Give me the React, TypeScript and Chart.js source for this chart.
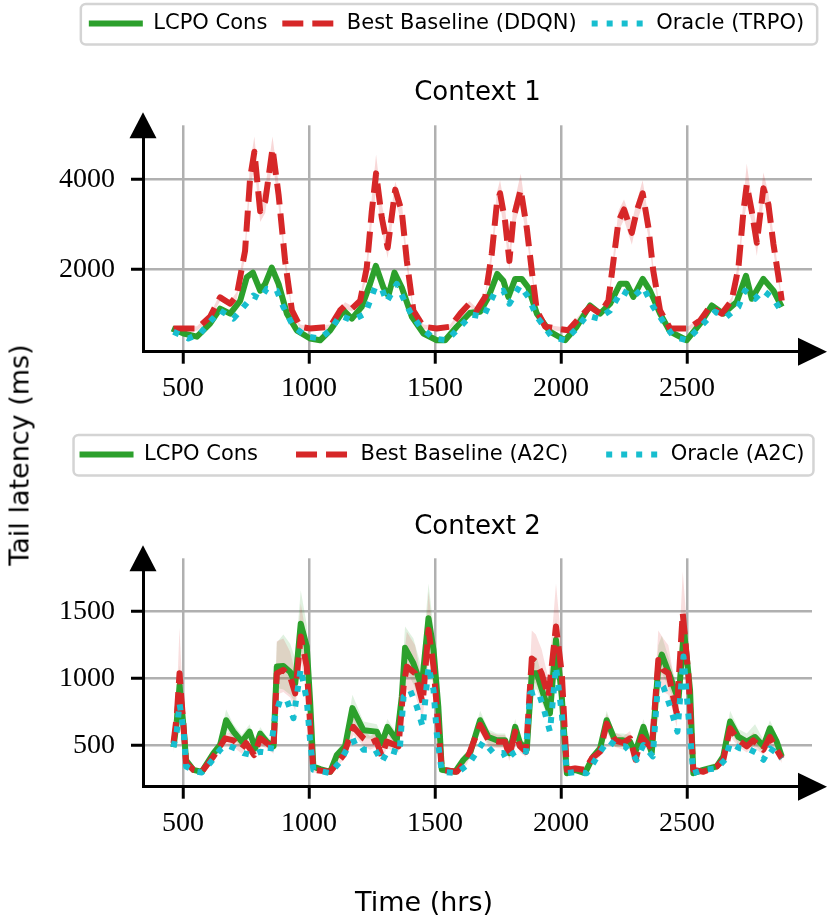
import React, { useEffect, useRef } from 'react';
import { Chart, registerables } from 'chart.js';

Chart.register(...registerables);

// shared axis ticks
const xTicks = [500, 1000, 1500, 2000, 2500];
const c1YTicks = [2000, 4000];
const c2YTicks = [500, 1000, 1500];

// ---- Context 1 ----
const c1LcpoT = [456, 502, 555, 607, 647, 687, 727, 753, 777, 806, 826, 852, 879, 912, 951, 1004, 1044, 1084, 1137, 1170, 1209, 1242, 1265, 1295, 1315, 1339, 1368, 1408, 1454, 1507, 1540, 1586, 1639, 1679, 1712, 1747, 1771, 1791, 1818, 1844, 1870, 1904, 1956, 2016, 2062, 2115, 2155, 2195, 2234, 2261, 2287, 2324, 2353, 2393, 2433, 2499, 2552, 2598, 2644, 2697, 2734, 2757, 2803, 2843, 2876];
const c1LcpoV = [690, 580, 510, 800, 1130, 1020, 1310, 1830, 1930, 1530, 1680, 2040, 1680, 1020, 650, 470, 430, 650, 1090, 910, 1170, 1680, 2080, 1600, 1420, 1930, 1600, 950, 580, 430, 430, 730, 1040, 1060, 1390, 1900, 1750, 1390, 1790, 1790, 1600, 1020, 620, 430, 730, 1200, 1020, 1240, 1680, 1680, 1390, 1790, 1530, 1020, 620, 430, 800, 1200, 1020, 1280, 1860, 1350, 1790, 1530, 1170];

const c1BaseT = [462, 555, 607, 647, 687, 713, 746, 766, 783, 806, 826, 855, 879, 905, 932, 965, 1004, 1084, 1123, 1143, 1170, 1203, 1229, 1249, 1266, 1289, 1312, 1342, 1368, 1388, 1414, 1454, 1507, 1560, 1600, 1636, 1665, 1699, 1725, 1745, 1758, 1778, 1795, 1811, 1840, 1864, 1884, 1904, 1937, 1983, 2029, 2076, 2115, 2155, 2188, 2208, 2228, 2250, 2281, 2300, 2324, 2347, 2366, 2393, 2433, 2505, 2552, 2591, 2638, 2677, 2704, 2724, 2737, 2757, 2777, 2803, 2823, 2843, 2863, 2876];
const c1BaseV = [690, 690, 950, 1380, 1240, 1420, 2410, 4020, 4610, 3290, 3510, 4680, 3660, 2190, 1090, 730, 690, 730, 1090, 1200, 1130, 1310, 2040, 3290, 4130, 3140, 2480, 3770, 3290, 2190, 1090, 730, 690, 730, 1020, 1240, 1090, 1390, 2340, 3440, 3690, 3070, 2190, 3140, 3770, 2920, 1970, 1090, 730, 690, 650, 950, 1170, 1020, 1310, 2190, 3070, 3330, 2810, 3290, 3690, 2920, 1970, 1090, 690, 690, 870, 1170, 1020, 1310, 2040, 3290, 3880, 3290, 2590, 3800, 3440, 2560, 1830, 1310];
const c1BaseHi = [740, 740, 1010, 1460, 1300, 1500, 2600, 4350, 4950, 3600, 3800, 4950, 3900, 2350, 1160, 780, 740, 780, 1150, 1270, 1190, 1380, 2250, 3600, 4550, 3450, 2750, 3950, 3500, 2350, 1160, 780, 740, 780, 1080, 1300, 1150, 1460, 2500, 3700, 3980, 3350, 2450, 3400, 4120, 3150, 2100, 1160, 780, 740, 700, 1010, 1230, 1080, 1380, 2350, 3300, 3550, 3050, 3500, 3980, 3150, 2100, 1160, 740, 740, 930, 1230, 1080, 1380, 2200, 3550, 4350, 3550, 2900, 4150, 3700, 2750, 1950, 1380];
const c1BaseLo = [640, 640, 890, 1300, 1180, 1340, 2250, 3750, 4300, 3050, 3250, 4400, 3400, 2030, 1020, 680, 640, 680, 1030, 1130, 1070, 1240, 1850, 3000, 3750, 2850, 2250, 3500, 3050, 2030, 1020, 680, 640, 680, 960, 1180, 1030, 1320, 2180, 3200, 3420, 2800, 1980, 2900, 3450, 2700, 1840, 1020, 680, 640, 600, 890, 1110, 960, 1240, 2030, 2850, 3100, 2550, 3050, 3420, 2700, 1840, 1020, 640, 640, 810, 1110, 960, 1240, 1880, 3050, 3450, 3050, 2300, 3500, 3200, 2380, 1700, 1240];

const c1OracleT = [462, 521, 568, 607, 647, 700, 740, 779, 806, 832, 872, 898, 938, 991, 1044, 1084, 1123, 1170, 1223, 1262, 1289, 1308, 1348, 1375, 1401, 1441, 1494, 1547, 1593, 1646, 1692, 1738, 1771, 1795, 1837, 1870, 1904, 1963, 2016, 2062, 2102, 2148, 2195, 2241, 2287, 2327, 2366, 2406, 2446, 2499, 2565, 2611, 2657, 2704, 2730, 2770, 2803, 2843, 2876];
const c1OracleV = [620, 470, 580, 840, 1090, 910, 1170, 1420, 1350, 1570, 1530, 1170, 730, 510, 470, 650, 980, 870, 1020, 1600, 1570, 1280, 1680, 1350, 1060, 730, 470, 430, 690, 1000, 950, 1500, 1530, 1240, 1640, 1390, 950, 510, 430, 690, 980, 910, 1090, 1530, 1390, 1600, 1170, 840, 510, 430, 800, 1060, 950, 1170, 1530, 1350, 1530, 1350, 1060];

// ---- Context 2 ----
const c2LcpoT = [462, 475, 486, 502, 512, 541, 574, 621, 647, 671, 700, 733, 764, 786, 806, 832, 859, 872, 898, 925, 945, 967, 991, 1004, 1017, 1044, 1084, 1110, 1143, 1172, 1216, 1269, 1289, 1311, 1348, 1368, 1381, 1414, 1447, 1474, 1494, 1513, 1527, 1580, 1613, 1639, 1679, 1712, 1745, 1778, 1795, 1818, 1837, 1864, 1884, 1904, 1933, 1956, 1980, 2003, 2023, 2056, 2095, 2128, 2155, 2181, 2214, 2247, 2274, 2294, 2327, 2360, 2386, 2400, 2433, 2466, 2488, 2512, 2525, 2565, 2618, 2644, 2671, 2704, 2737, 2770, 2803, 2829, 2856, 2876];
const c2LcpoV = [490, 680, 950, 640, 390, 320, 305, 445, 505, 690, 605, 530, 605, 480, 590, 530, 495, 1090, 1095, 1050, 965, 1410, 1240, 840, 345, 325, 305, 430, 495, 780, 615, 605, 520, 640, 540, 865, 1230, 1115, 940, 1450, 1215, 790, 320, 305, 395, 445, 690, 565, 540, 540, 445, 640, 520, 470, 1040, 1040, 865, 740, 1290, 865, 295, 320, 295, 420, 480, 690, 540, 540, 530, 445, 640, 445, 1090, 1180, 1015, 840, 1360, 915, 295, 320, 345, 420, 680, 565, 530, 565, 495, 630, 530, 420];
const c2LcpoHi = [530, 760, 1100, 700, 420, 340, 325, 480, 550, 770, 660, 580, 660, 520, 640, 570, 530, 1270, 1330, 1260, 1150, 1660, 1400, 950, 370, 345, 325, 465, 540, 880, 680, 660, 570, 700, 590, 1000, 1390, 1300, 1080, 1710, 1380, 880, 345, 325, 430, 485, 760, 620, 590, 590, 485, 700, 565, 510, 1170, 1160, 960, 820, 1450, 960, 320, 345, 320, 455, 520, 760, 590, 590, 580, 485, 700, 485, 1250, 1320, 1120, 920, 1520, 1000, 320, 345, 375, 460, 760, 625, 590, 660, 545, 690, 580, 460];
const c2LcpoLo = [450, 610, 820, 580, 360, 300, 285, 410, 460, 620, 550, 480, 550, 440, 540, 490, 460, 930, 920, 880, 820, 1200, 1080, 740, 320, 305, 285, 395, 450, 690, 555, 550, 475, 580, 495, 760, 1080, 960, 820, 1240, 1060, 700, 295, 285, 360, 405, 620, 510, 490, 490, 405, 580, 475, 430, 920, 920, 780, 670, 1140, 780, 275, 295, 275, 385, 440, 620, 490, 490, 480, 405, 580, 405, 950, 1040, 910, 760, 1200, 830, 275, 295, 315, 380, 610, 510, 480, 500, 450, 570, 480, 385];

const c2BaseT = [462, 475, 486, 502, 512, 541, 574, 621, 667, 700, 733, 750, 782, 806, 832, 859, 872, 898, 925, 945, 967, 991, 1004, 1017, 1084, 1137, 1176, 1216, 1242, 1266, 1289, 1308, 1355, 1375, 1388, 1421, 1451, 1474, 1494, 1513, 1527, 1586, 1626, 1679, 1712, 1751, 1778, 1795, 1818, 1837, 1861, 1884, 1900, 1923, 1950, 1980, 2003, 2023, 2056, 2095, 2122, 2155, 2181, 2214, 2247, 2274, 2296, 2320, 2360, 2386, 2406, 2426, 2459, 2483, 2505, 2525, 2565, 2618, 2644, 2671, 2704, 2737, 2763, 2803, 2829, 2856, 2876];
const c2BaseV = [520, 720, 1040, 640, 370, 320, 305, 420, 555, 540, 480, 520, 430, 555, 520, 480, 1040, 1065, 1015, 890, 1315, 1090, 665, 320, 305, 430, 640, 555, 520, 540, 420, 530, 495, 940, 1090, 1040, 815, 1365, 1090, 640, 320, 305, 395, 655, 540, 530, 530, 420, 605, 495, 455, 1150, 1125, 1040, 865, 1390, 1040, 320, 330, 320, 405, 455, 665, 540, 520, 555, 395, 565, 480, 1140, 1065, 1040, 740, 1490, 1040, 320, 305, 345, 395, 630, 540, 495, 540, 470, 565, 470, 405];
const c2BaseHi = [570, 850, 1380, 720, 400, 340, 325, 450, 600, 590, 520, 560, 470, 610, 560, 520, 1280, 1300, 1200, 1050, 1560, 1300, 760, 340, 325, 470, 710, 620, 570, 600, 460, 580, 540, 1150, 1350, 1250, 950, 1650, 1300, 720, 340, 325, 430, 720, 600, 580, 580, 460, 660, 545, 500, 1360, 1330, 1220, 1000, 1710, 1250, 345, 355, 345, 440, 500, 740, 600, 570, 610, 440, 620, 530, 1360, 1300, 1250, 880, 1800, 1260, 345, 325, 370, 430, 700, 600, 545, 600, 520, 620, 520, 445];
const c2BaseLo = [470, 620, 780, 570, 340, 300, 285, 390, 510, 490, 440, 480, 395, 500, 480, 440, 880, 900, 860, 760, 1130, 900, 580, 300, 285, 395, 580, 500, 470, 490, 385, 480, 450, 800, 920, 880, 700, 1150, 920, 570, 300, 285, 360, 600, 490, 480, 480, 385, 550, 450, 415, 980, 960, 880, 740, 1150, 880, 300, 310, 300, 370, 415, 600, 490, 470, 500, 360, 510, 440, 960, 900, 880, 640, 1250, 880, 300, 285, 320, 360, 570, 490, 450, 490, 430, 510, 430, 370];

const c2OracleT = [462, 475, 486, 502, 512, 555, 574, 607, 647, 674, 707, 740, 773, 806, 846, 865, 885, 912, 938, 967, 991, 1004, 1017, 1084, 1123, 1163, 1189, 1216, 1262, 1289, 1315, 1359, 1375, 1401, 1428, 1451, 1474, 1494, 1507, 1527, 1586, 1636, 1692, 1732, 1771, 1784, 1811, 1837, 1861, 1877, 1910, 1933, 1956, 1980, 2003, 2023, 2062, 2102, 2128, 2161, 2188, 2221, 2254, 2280, 2300, 2327, 2364, 2386, 2406, 2433, 2462, 2486, 2505, 2525, 2565, 2618, 2651, 2671, 2710, 2750, 2777, 2803, 2829, 2856, 2876];
const c2OracleV = [490, 605, 815, 615, 345, 305, 300, 370, 470, 505, 480, 445, 430, 455, 445, 715, 840, 840, 705, 1075, 840, 540, 320, 295, 380, 520, 540, 470, 470, 380, 470, 445, 865, 915, 790, 640, 1090, 915, 590, 305, 295, 368, 530, 445, 445, 395, 445, 470, 455, 890, 905, 765, 605, 1090, 740, 295, 305, 295, 370, 470, 540, 495, 495, 445, 395, 505, 420, 990, 940, 790, 605, 1165, 740, 295, 320, 330, 395, 520, 480, 470, 445, 395, 480, 445, 405];

const GREEN = '#2ca02c';
const RED = '#d62728';
const CYAN = '#17becf';
const LW = 6;

const pts = (t: number[], v: number[]) => t.map((x, i) => ({ x, y: v[i] }));

const lineDs = (label: string, t: number[], v: number[], color: string, dash: number[], order: number) => ({
  label,
  data: pts(t, v),
  borderColor: color,
  backgroundColor: color,
  borderWidth: LW,
  borderDash: dash,
  borderJoinStyle: 'round',
  pointRadius: 0,
  tension: 0,
  fill: false,
  order,
});

const bandDs = (t: number[], v: number[], color: string, fill: any) => ({
  label: '_band',
  data: pts(t, v),
  borderWidth: 0,
  pointRadius: 0,
  tension: 0,
  backgroundColor: color,
  fill,
  order: 5,
});

// legend items: only the three lines, in dataset order, with their dash styles
const legendItems = (chart: any) =>
  chart.data.datasets
    .map((ds: any, i: number) => ({
      text: ds.label,
      datasetIndex: i,
      fillStyle: ds.borderColor,
      strokeStyle: ds.borderColor,
      lineWidth: LW,
      lineDash: ds.borderDash,
      lineCap: 'butt',
      pointStyle: 'line',
      fontColor: '#000',
      hidden: false,
    }))
    .filter((it: any) => it.datasetIndex < 3);

// legend frame, legend shift and axis arrow heads
const decor = {
  id: 'decor',
  afterLayout(chart: any) {
    const lg = chart.legend;
    const dx = chart.options.plugins.decor.dx;
    if (lg) {
      lg.left += dx;
      lg.right += dx;
    }
  },
  beforeDraw(chart: any) {
    const hb = chart.legend && chart.legend.legendHitBoxes;
    if (!hb || !hb.length) return;
    const opts = chart.options.plugins.decor;
    const ctx = chart.ctx;
    const last = hb[hb.length - 1];
    const cy = hb[0].top + hb[0].height / 2;
    const x0 = hb[0].left - opts.padL;
    const x1 = last.left + last.width + opts.padR;
    const y0 = cy - 19.5;
    const y1 = cy + 21;
    ctx.save();
    ctx.beginPath();
    ctx.roundRect(x0, y0, x1 - x0, y1 - y0, 5);
    ctx.fillStyle = '#fff';
    ctx.fill();
    ctx.lineWidth = 2.5;
    ctx.strokeStyle = '#d4d4d4';
    ctx.stroke();
    ctx.restore();
  },
  afterDraw(chart: any) {
    const { ctx, chartArea: a } = chart;
    ctx.save();
    ctx.fillStyle = '#000';
    ctx.beginPath();
    ctx.moveTo(a.left, a.top - 13);
    ctx.lineTo(a.left - 13.5, a.top + 13);
    ctx.lineTo(a.left + 13.5, a.top + 13);
    ctx.closePath();
    ctx.fill();
    ctx.beginPath();
    ctx.moveTo(a.right + 15, a.bottom);
    ctx.lineTo(a.right - 14, a.bottom - 14);
    ctx.lineTo(a.right - 14, a.bottom + 14);
    ctx.closePath();
    ctx.fill();
    ctx.restore();
  },
};

const tickFont = { family: 'Liberation Serif', size: 28 };

function makeOptions(p: any) {
  return {
    responsive: false,
    animation: false,
    events: [],
    layout: { padding: { left: 0, right: 18, top: 0, bottom: 0 } },
    scales: {
      x: {
        type: 'linear',
        min: 341,
        max: 2996,
        afterBuildTicks: (s: any) => { s.ticks = xTicks.map((v) => ({ value: v })); },
        afterFit: (s: any) => { s.height = p.xHeight; },
        ticks: { font: tickFont, color: '#000', padding: 8, maxRotation: 0, autoSkip: false, callback: (v: any) => String(v) },
        grid: { color: '#b0b0b0', lineWidth: 2.5, tickColor: '#000', tickWidth: 3, tickLength: 12 },
        border: { color: '#000', width: 3 },
      },
      y: {
        type: 'linear',
        min: p.yMin,
        max: p.yMax,
        afterBuildTicks: (s: any) => { s.ticks = p.yTicks.map((v: number) => ({ value: v })); },
        afterFit: (s: any) => { s.width = 143; },
        ticks: { font: tickFont, color: '#000', padding: 16, autoSkip: false, callback: (v: any) => String(v) },
        grid: { color: '#b0b0b0', lineWidth: 2.5, tickColor: '#000', tickWidth: 3, tickLength: 12 },
        border: { color: '#000', width: 3 },
      },
    },
    plugins: {
      tooltip: { enabled: false },
      decor: { padL: p.frameL, padR: p.frameR, dx: p.legendShift },
      legend: {
        position: 'top',
        weight: 3000,
        labels: {
          usePointStyle: true,
          pointStyle: 'line',
          pointStyleWidth: 54,
          padding: p.legendPad,
          color: '#000',
          font: { family: 'DejaVu Sans', size: 21 },
          generateLabels: legendItems,
        },
      },
      title: {
        display: true,
        text: p.title,
        fullSize: false,
        color: '#000',
        font: { family: 'DejaVu Sans', size: 26, weight: 'normal' },
        padding: { top: p.titleTop, bottom: p.titleBottom },
      },
    },
  };
}

export default function App() {
  const topRef = useRef<HTMLCanvasElement>(null);
  const botRef = useRef<HTMLCanvasElement>(null);

  useEffect(() => {
    const top = new Chart(topRef.current as HTMLCanvasElement, {
      type: 'line',
      data: {
        datasets: [
          lineDs('LCPO Cons', c1LcpoT, c1LcpoV, GREEN, [], 2),
          lineDs('Best Baseline (DDQN)', c1BaseT, c1BaseV, RED, [21, 9], 1),
          lineDs('Oracle (TRPO)', c1OracleT, c1OracleV, CYAN, [6, 9], 0),
          bandDs(c1BaseT, c1BaseHi, 'rgba(214,39,40,0.18)', '+1'),
          bandDs(c1BaseT, c1BaseLo, 'rgba(214,39,40,0.18)', false),
        ],
      },
      options: makeOptions({
        xHeight: 58.3, yMin: 176, yMax: 5196, yTicks: c1YTicks, legendShift: 40.5,
        legendPad: 15, frameL: 8, frameR: 13, title: 'Context 1', titleTop: 33.4, titleBottom: 16.7,
      }) as any,
      plugins: [decor],
    });

    const bot = new Chart(botRef.current as HTMLCanvasElement, {
      type: 'line',
      data: {
        datasets: [
          lineDs('LCPO Cons', c2LcpoT, c2LcpoV, GREEN, [], 2),
          lineDs('Best Baseline (A2C)', c2BaseT, c2BaseV, RED, [21, 9], 1),
          lineDs('Oracle (A2C)', c2OracleT, c2OracleV, CYAN, [6, 9], 0),
          bandDs(c2BaseT, c2BaseHi, 'rgba(214,39,40,0.15)', '+1'),
          bandDs(c2BaseT, c2BaseLo, 'rgba(214,39,40,0.15)', false),
          bandDs(c2LcpoT, c2LcpoHi, 'rgba(44,160,44,0.15)', '+1'),
          bandDs(c2LcpoT, c2LcpoLo, 'rgba(44,160,44,0.15)', false),
        ],
      },
      options: makeOptions({
        xHeight: 134.3, yMin: 194, yMax: 1898, yTicks: c2YTicks, legendShift: 36,
        legendPad: 38, frameL: 6, frameR: 9, title: 'Context 2', titleTop: 36.4, titleBottom: 15.7,
      }) as any,
      plugins: [decor],
    });

    return () => {
      top.destroy();
      bot.destroy();
    };
  }, []);

  return (
    <div style={{ position: 'absolute', left: 0, top: 0, width: 830, height: 921, background: '#fff', overflow: 'hidden' }}>
      <canvas ref={topRef} width={830} height={412} style={{ position: 'absolute', left: 0, top: -2, display: 'block' }} />
      <canvas ref={botRef} width={830} height={515} style={{ position: 'absolute', left: 0, top: 406, display: 'block' }} />
      <div
        style={{
          position: 'absolute', left: 19, top: 455, transform: 'translate(-50%, -50%) rotate(-90deg)',
          fontFamily: 'DejaVu Sans', fontSize: 27, lineHeight: 1, whiteSpace: 'nowrap', color: '#000',
        }}
      >
        Tail latency (ms)
      </div>
      <div
        style={{
          position: 'absolute', left: 424, top: 901, transform: 'translate(-50%, -50%)',
          fontFamily: 'DejaVu Sans', fontSize: 27, lineHeight: 1, whiteSpace: 'nowrap', color: '#000',
        }}
      >
        Time (hrs)
      </div>
    </div>
  );
}
